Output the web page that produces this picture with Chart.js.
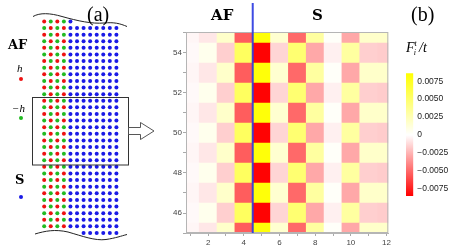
<!DOCTYPE html>
<html>
<head>
<meta charset="utf-8">
<script src="https://cdn.jsdelivr.net/npm/chart.js@4.4.0/dist/chart.umd.min.js"></script>
<style>
body{margin:0;background:#fff;}
#fig{position:relative;width:463px;height:249px;overflow:hidden;font-family:"DejaVu Serif",serif;}
canvas{position:absolute;}
.lbl{position:absolute;white-space:nowrap;line-height:1;color:#000;}
.b{font-weight:bold;}
.dot{position:absolute;width:4px;height:4px;border-radius:50%;}
</style>
</head>
<body>
<div id="fig">
<canvas id="red" width="160" height="249" style="left:0;top:0"></canvas>
<canvas id="mapa" width="243" height="249" style="left:150px;top:0"></canvas>
<canvas id="barra" width="65" height="150" style="left:398px;top:60px"></canvas>

<div class="lbl" style="left:87px;top:4px;font-size:20px;font-family:'Liberation Serif',serif">(a)</div>
<div class="lbl b" style="left:8px;top:38px;font-size:13px">AF</div>
<div class="lbl" style="left:17px;top:63px;font-size:11px;font-style:italic;font-family:'Liberation Serif',serif">h</div>
<div class="dot" style="left:19px;top:77px;background:#ee1111"></div>
<div class="lbl" style="left:12px;top:103px;font-size:11px;font-style:italic;font-family:'Liberation Serif',serif">&minus;h</div>
<div class="dot" style="left:19px;top:116px;background:#22bb22"></div>
<div class="lbl b" style="left:15px;top:173px;font-size:13px">S</div>
<div class="dot" style="left:19px;top:195px;background:#1a1ae6"></div>

<div class="lbl b" style="left:211px;top:8px;font-size:15px">AF</div>
<div class="lbl b" style="left:312px;top:8px;font-size:15px">S</div>
<div class="lbl" style="left:411px;top:4px;font-size:20px;font-family:'Liberation Serif',serif">(b)</div>
<div class="lbl" style="left:406px;top:41px;font-size:14px;font-style:italic;font-family:'Liberation Serif',serif">F<span style="position:relative;font-size:8px;top:-6px">t</span><span style="position:relative;font-size:8px;left:-3px;top:3px">i</span>/t</div>
</div>

<script>
Chart.defaults.font.family = 'Liberation Sans';

// PANEL (a): RED DE SITIOS
const columnasRed = [1,2,3,4,5,6,7,8,9,10,11,12];
const columnasAF = 4;
const filaInicio = [0,0,0,0,0,1,1,1,1,1,1,1];
const filaFin = [31,31,31,31,31,31,32,32,32,32,32,32];

// PANEL (b): MAPA F_i^t/t
const columnas = [1,2,3,4,5,6,7,8,9,10,11,12];
const filas = [45,46,47,48,49,50,51,52,53,54,55];
const valoresImpares = [-0.0003,-0.0008,0.0018,-0.0054,0.0083,0.0016,-0.0050,0.0032,0.0002,-0.0029,0.0018,0.0018];
const valoresPares = [-0.0002,0.0006,-0.0016,0.0054,-0.0084,-0.0014,0.0048,-0.0029,-0.0005,0.0032,-0.0016,-0.0017];
const ticksX = [2,4,6,8,10,12];
const ticksY = [46,48,50,52,54];
const interfaz = 4.5;

// BARRA DE COLOR
const ticksBarra = [-0.0075,-0.005,-0.0025,0,0.0025,0.005,0.0075];
const minBarra = -0.0085;
const maxBarra = 0.0086;

function colorDe(v){
    let f = v >= 0 ? v/maxBarra : v/(-minBarra);
    f = Math.max(-1, Math.min(1, f));
    if(f >= 0){
        return 'rgb(255,255,' + Math.round(255*(1-f)) + ')';
    }
    const g = Math.round(255*(1+f));
    return 'rgb(255,' + g + ',' + g + ')';
}

// ---------- panel (a) ----------
const puntosRojo = [], puntosVerde = [], puntosAzul = [];
columnasRed.forEach((c, i) => {
    for(let k = filaInicio[i]; k <= filaFin[i]; k++){
        if(c <= columnasAF){
            if((c + k) % 2 === 1) puntosRojo.push({x: c, y: k});
            else puntosVerde.push({x: c, y: k});
        }else{
            puntosAzul.push({x: c, y: k});
        }
    }
});

const decoracionRed = {
    id: 'decoracionRed',
    afterDraw(chart){
        const ctx = chart.ctx;
        ctx.save();
        ctx.strokeStyle = '#222';
        ctx.lineWidth = 1;
        // corte superior
        ctx.beginPath();
        ctx.moveTo(33, 16.5);
        ctx.bezierCurveTo(40, 12.5, 50, 13, 62, 16.5);
        ctx.bezierCurveTo(78, 21, 92, 24, 104, 23);
        ctx.bezierCurveTo(114, 22, 120, 23.5, 127, 26.5);
        ctx.stroke();
        // corte inferior
        ctx.beginPath();
        ctx.moveTo(35, 234);
        ctx.bezierCurveTo(45, 231, 55, 229, 68, 232);
        ctx.bezierCurveTo(82, 236, 95, 241, 106, 239.5);
        ctx.bezierCurveTo(116, 238, 121, 236, 127, 234.5);
        ctx.stroke();
        // recuadro
        ctx.strokeStyle = '#333';
        ctx.strokeRect(32.5, 97.5, 96, 67.5);
        // flecha
        ctx.strokeStyle = '#444';
        ctx.fillStyle = '#fff';
        ctx.lineWidth = 0.9;
        ctx.beginPath();
        ctx.moveTo(128.5, 127.5);
        ctx.lineTo(140.5, 127.5);
        ctx.lineTo(140.5, 122.5);
        ctx.lineTo(154, 131);
        ctx.lineTo(140.5, 139.5);
        ctx.lineTo(140.5, 134.5);
        ctx.lineTo(128.5, 134.5);
        ctx.closePath();
        ctx.fill();
        ctx.stroke();
        ctx.restore();
    }
};

new Chart(document.getElementById('red'), {
    type: 'scatter',
    data: {
        datasets: [
            {data: puntosRojo, backgroundColor: '#ee1111'},
            {data: puntosVerde, backgroundColor: '#22bb22'},
            {data: puntosAzul, backgroundColor: '#1a1ae6'}
        ]
    },
    options: {
        responsive: false,
        animation: false,
        events: [],
        layout: {padding: 0},
        elements: {point: {radius: 2, borderWidth: 0}},
        plugins: {legend: {display: false}, tooltip: {enabled: false}},
        scales: {
            x: {type: 'linear', display: false, min: -5.12, max: 18.03},
            y: {type: 'linear', display: false, min: -2.635, max: 33.82, reverse: true}
        }
    },
    plugins: [decoracionRed]
});

// ---------- panel (b) ----------
const datasetsMapa = filas.map(r => ({
    label: 'fila ' + r,
    data: columnas.map((c, i) => ({
        x: c,
        y: [r - 0.5, r + 0.5],
        v: (r % 2 === 1 ? valoresImpares : valoresPares)[i]
    })),
    backgroundColor: ctx => ctx.raw ? colorDe(ctx.raw.v) : '#fff',
    borderWidth: 0,
    grouped: false,
    barPercentage: 1,
    categoryPercentage: 1,
    clip: 0
}));

const marcoMapa = {
    id: 'marcoMapa',
    afterDraw(chart){
        const ctx = chart.ctx;
        const a = chart.chartArea;
        ctx.save();
        ctx.strokeStyle = '#b5b5b5';
        ctx.lineWidth = 1;
        ctx.strokeRect(a.left + 0.5, a.top + 0.5, a.right - a.left - 1, a.bottom - a.top - 1);
        const xi = chart.scales.x.getPixelForValue(interfaz);
        ctx.strokeStyle = 'rgba(45,60,225,0.92)';
        ctx.lineWidth = 2;
        ctx.beginPath();
        ctx.moveTo(xi, 3);
        ctx.lineTo(xi, a.bottom);
        ctx.stroke();
        ctx.restore();
    }
};

const ejeComun = {
    type: 'linear',
    offset: false,
    grid: {drawOnChartArea: false, tickLength: 3, color: '#aaa', offset: false},
    border: {color: '#b5b5b5'}
};

new Chart(document.getElementById('mapa'), {
    type: 'bar',
    data: {datasets: datasetsMapa},
    options: {
        responsive: false,
        animation: false,
        events: [],
        layout: {padding: {top: 32, right: 3, left: 0, bottom: 0}},
        plugins: {legend: {display: false}, tooltip: {enabled: false}},
        scales: {
            x: Object.assign({}, ejeComun, {
                min: 0.76, max: 12.1,
                ticks: {stepSize: 1, includeBounds: false, autoSkip: false, maxRotation: 0, padding: 2,
                    color: '#444', font: {size: 8},
                    callback: v => ticksX.includes(v) ? String(v) : ''},
                afterFit: s => { s.height = 16; }
            }),
            y: Object.assign({}, ejeComun, {
                min: 45, max: 55.05,
                ticks: {stepSize: 1, includeBounds: false, autoSkip: false, padding: 1,
                    color: '#444', font: {size: 8},
                    callback: v => ticksY.includes(v) ? String(v) : ''},
                afterFit: s => { s.width = 36; }
            })
        }
    },
    plugins: [marcoMapa]
});

// ---------- barra de color ----------
function formatoBarra(v){
    const t = ticksBarra.find(b => Math.abs(b - v) < 1e-9);
    if(t === undefined) return '';
    if(t === 0) return '0';
    const s = Math.abs(t).toFixed(4);
    return t < 0 ? '\u2212' + s : s;
}

new Chart(document.getElementById('barra'), {
    type: 'bar',
    data: {
        labels: [''],
        datasets: [{
            data: [[minBarra, maxBarra]],
            borderWidth: 0,
            barPercentage: 1,
            categoryPercentage: 1,
            backgroundColor: ctx => {
                const ch = ctx.chart;
                if(!ch.chartArea) return '#fff';
                const y = ch.scales.y;
                const g = ch.ctx.createLinearGradient(0, y.getPixelForValue(minBarra), 0, y.getPixelForValue(maxBarra));
                g.addColorStop(0, colorDe(minBarra));
                g.addColorStop((0 - minBarra) / (maxBarra - minBarra), colorDe(0));
                g.addColorStop(1, colorDe(maxBarra));
                return g;
            }
        }]
    },
    options: {
        responsive: false,
        animation: false,
        events: [],
        layout: {padding: {top: 13.3, bottom: 14, left: 8, right: 0}},
        plugins: {legend: {display: false}, tooltip: {enabled: false}},
        scales: {
            x: {display: false},
            y: {
                position: 'right',
                min: minBarra, max: maxBarra,
                grid: {display: false, drawTicks: false},
                border: {display: false},
                ticks: {stepSize: 0.0025, includeBounds: false, autoSkip: false, padding: 4,
                    color: '#222', font: {size: 8.5}, callback: formatoBarra},
                afterFit: s => { s.width = 49.7; }
            }
        }
    }
});
</script>
</body>
</html>
